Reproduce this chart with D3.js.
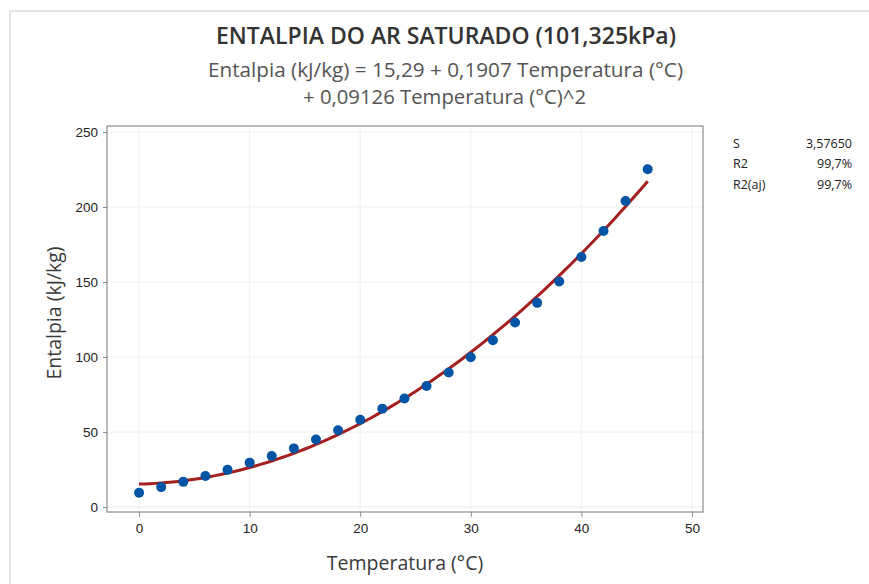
<!DOCTYPE html>
<html>
<head>
<meta charset="utf-8">
<script src="https://cdn.jsdelivr.net/npm/d3@7"></script>
<style>
  body { margin: 0; background: #fff; }
  svg { font-family: "Open Sans", "Noto Sans", sans-serif; }
</style>
</head>
<body>
<svg id="chart" width="869" height="584"></svg>
<script>
// Data
const temperatura = [0, 2, 4, 6, 8, 10, 12, 14, 16, 18, 20, 22, 24, 26, 28, 30, 32, 34, 36, 38, 40, 42, 44, 46];
const entalpia = [9.5, 13.3, 16.8, 20.7, 24.8, 29.6, 34.0, 39.1, 45.0, 51.2, 58.2, 65.6, 72.4, 80.7, 89.7, 99.9, 111.2, 123.0, 136.1, 150.4, 166.7, 184.0, 204.0, 225.2];
// fitted model: b0 + b1*x + b2*x^2
const coefs = [15.29, 0.1907, 0.09126];
const xTicks = [0, 10, 20, 30, 40, 50];
const yTicks = [0, 50, 100, 150, 200, 250];
const statsLabels = ["S", "R2", "R2(aj)"];
const statsValues = ["3,57650", "99,7%", "99,7%"];

const svg = d3.select("#chart");
const margin = { top: 126, right: 166, bottom: 72, left: 107 };
const width = 869 - margin.left - margin.right;
const height = 584 - margin.top - margin.bottom;

// outer panel border (light gray)
svg.append("path")
    .attr("d", "M10,584 V11 H869")
    .attr("fill", "none")
    .attr("stroke", "#e3e3e3")
    .attr("stroke-width", 2);

const g = svg.append("g").attr("transform", `translate(${margin.left}, ${margin.top})`);

const xScale = d3.scaleLinear().domain([-2.9, 51]).range([0, width]);
const yScale = d3.scaleLinear().domain([-3.3, 254]).range([height, 0]);

// gridlines
g.selectAll(".gx").data(xTicks).enter().append("line")
    .attr("x1", d => xScale(d)).attr("x2", d => xScale(d))
    .attr("y1", 0).attr("y2", height)
    .attr("stroke", "#efefef");
g.selectAll(".gy").data(yTicks).enter().append("line")
    .attr("y1", d => yScale(d)).attr("y2", d => yScale(d))
    .attr("x1", 0).attr("x2", width)
    .attr("stroke", "#efefef");

// fitted line
const fit = d3.range(0, 46.01, 0.5).map(t => [t, coefs[0] + coefs[1] * t + coefs[2] * t * t]);
g.append("path")
    .datum(fit)
    .attr("d", d3.line().x(d => xScale(d[0])).y(d => yScale(d[1])))
    .attr("fill", "none")
    .attr("stroke", "#a51f1f")
    .attr("stroke-width", 3);

// data points
g.selectAll(".pt").data(temperatura).enter().append("circle")
    .attr("cx", d => xScale(d))
    .attr("cy", (d, i) => yScale(entalpia[i]))
    .attr("r", 5)
    .attr("fill", "#0054a6");

// frame
g.append("rect")
    .attr("width", width).attr("height", height)
    .attr("fill", "none")
    .attr("stroke", "#8c8c8c")
    .attr("stroke-width", 1.2);

// axes
const xAxis = g.append("g")
    .attr("transform", `translate(0, ${height})`)
    .call(d3.axisBottom(xScale).tickValues(xTicks).tickSize(5).tickSizeOuter(0).tickPadding(6));
const yAxis = g.append("g")
    .call(d3.axisLeft(yScale).tickValues(yTicks).tickSize(4).tickSizeOuter(0).tickPadding(5));
[xAxis, yAxis].forEach(a => {
    a.select(".domain").remove();
    a.selectAll("line").attr("stroke", "#8c8c8c");
    a.selectAll("text").style("font-size", "13.5px").attr("fill", "#222");
});

// axis titles
svg.append("text")
    .attr("x", 405).attr("y", 570)
    .attr("text-anchor", "middle")
    .style("font-size", "19.5px").attr("fill", "#3a3a3a")
    .text("Temperatura (°C)");
svg.append("text")
    .attr("transform", "translate(61, 313) rotate(-90)")
    .attr("text-anchor", "middle")
    .style("font-size", "19.5px").attr("fill", "#3a3a3a")
    .text("Entalpia (kJ/kg)");

// title and equation
svg.append("text")
    .attr("x", 446).attr("y", 44)
    .attr("text-anchor", "middle")
    .style("font-size", "23px").style("font-weight", "600").attr("fill", "#333")
    .attr("textLength", 460).attr("lengthAdjust", "spacingAndGlyphs")
    .text("ENTALPIA DO AR SATURADO (101,325kPa)");
svg.append("text")
    .attr("x", 445.5).attr("y", 77)
    .attr("text-anchor", "middle")
    .style("font-size", "20px").attr("fill", "#555")
    .attr("textLength", 475).attr("lengthAdjust", "spacingAndGlyphs")
    .text("Entalpia (kJ/kg) = 15,29 + 0,1907 Temperatura (°C)");
svg.append("text")
    .attr("x", 444.5).attr("y", 104)
    .attr("text-anchor", "middle")
    .style("font-size", "20px").attr("fill", "#555")
    .attr("textLength", 283).attr("lengthAdjust", "spacingAndGlyphs")
    .text("+ 0,09126 Temperatura (°C)^2");

// stats table
statsLabels.forEach((s, i) => {
    svg.append("text")
        .attr("x", 733).attr("y", 147.5 + i * 20.5)
        .style("font-size", "12.5px").attr("fill", "#222")
        .text(s);
    svg.append("text")
        .attr("x", 852).attr("y", 147.5 + i * 20.5)
        .attr("text-anchor", "end")
        .style("font-size", "12.5px").attr("fill", "#222")
        .text(statsValues[i]);
});
</script>
</body>
</html>
